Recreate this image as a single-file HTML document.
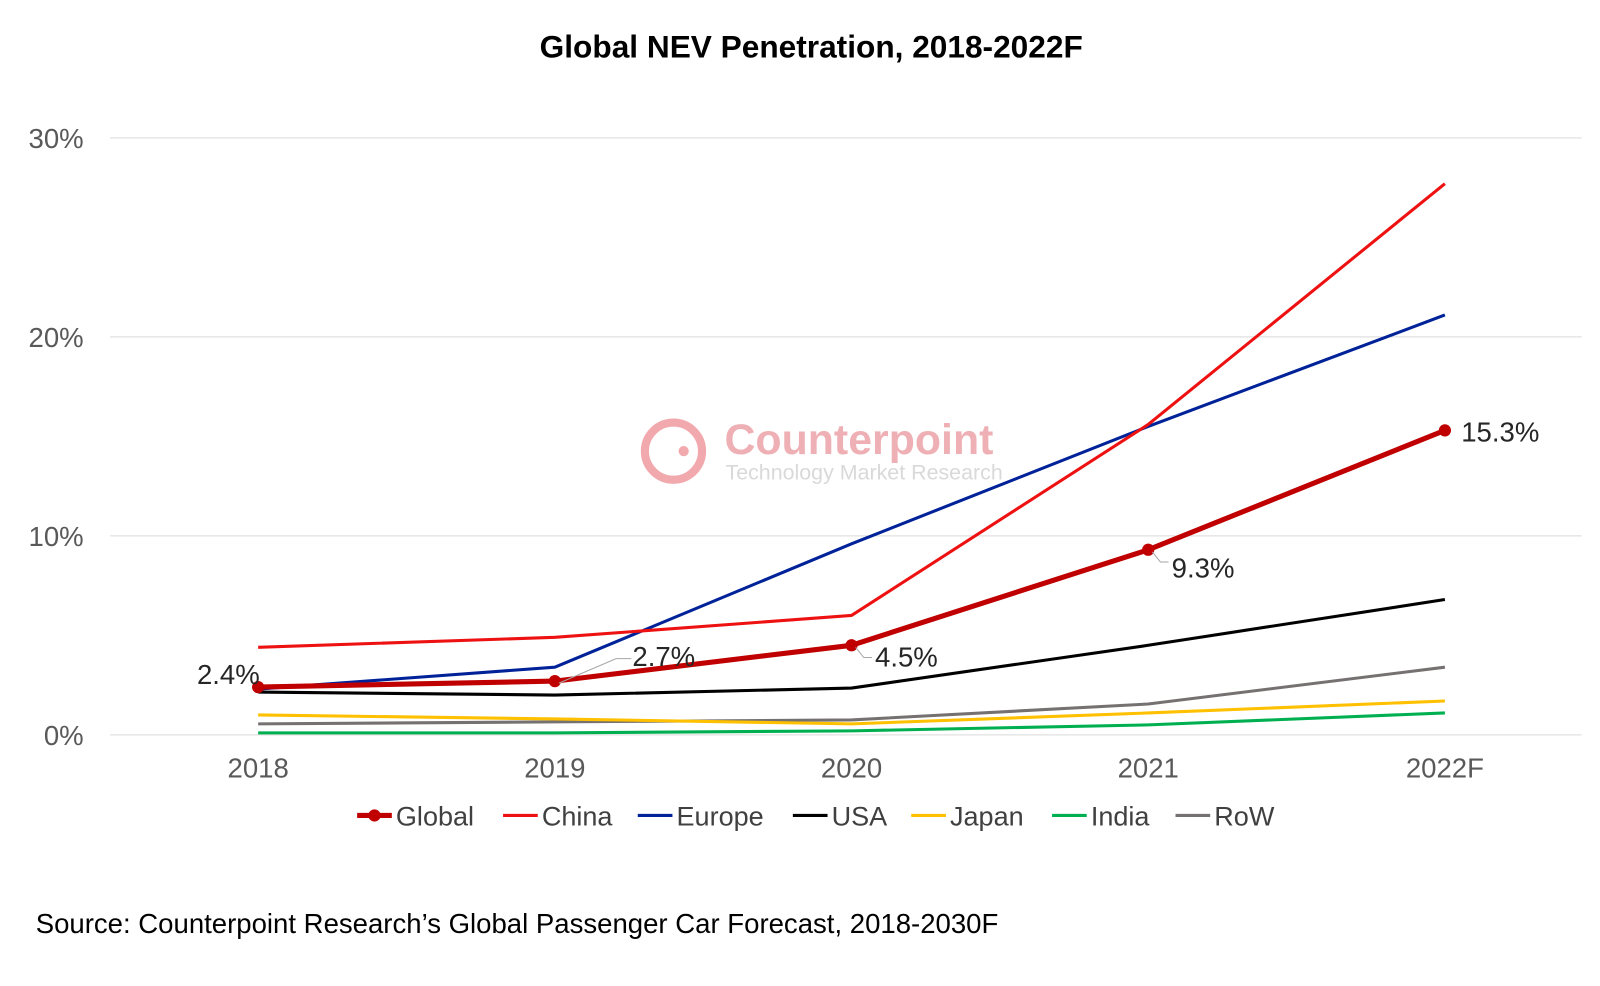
<!DOCTYPE html>
<html><head><meta charset="utf-8"><style>
body{margin:0;background:#fff;}
svg{display:block;}
svg text{font-family:"Liberation Sans",sans-serif;}
</style></head><body>
<svg id="chart" width="1600" height="986" viewBox="0 0 1568 966" xmlns="http://www.w3.org/2000/svg">
<text x="795" y="56" text-anchor="middle" font-size="31" font-weight="bold" fill="#000">Global NEV Penetration, 2018-2022F</text>
<g id="grid"></g>
<g id="watermark">
<circle cx="660" cy="442" r="28" fill="none" stroke="#f2a9ad" stroke-width="8"/>
<circle cx="670" cy="442" r="5" fill="#f2a9ad"/>
<text x="710" y="445" font-size="42" font-weight="bold" fill="#eeb0b4">Counterpoint</text>
<text x="711" y="470" font-size="21" fill="#d9d9d9">Technology Market Research</text>
</g>
<g id="series"></g>
<g id="labels"></g>
<g id="legend"></g>
<text x="35" y="914" font-size="27" fill="#000">Source: Counterpoint Research’s Global Passenger Car Forecast, 2018-2030F</text>
</svg>
<script>
const categories = ["2018","2019","2020","2021","2022F"];
const yTicks = [0,10,20,30];
const globalVals = [2.4,2.7,4.5,9.3,15.3];
const chinaVals = [4.4,4.9,6.0,15.6,27.7];
const europeVals = [2.3,3.4,9.6,15.5,21.1];
const usaVals = [2.15,2.0,2.35,4.5,6.8];
const japanVals = [1.0,0.8,0.55,1.1,1.7];
const indiaVals = [0.1,0.1,0.2,0.5,1.1];
const rowVals = [0.55,0.65,0.75,1.55,3.4];
const globalLabels = ["2.4%","2.7%","4.5%","9.3%","15.3%"];

const NS="http://www.w3.org/2000/svg";
const x = i => 253 + i*290.75;
const y = v => 720 - v*19.5;
function mk(tag, attrs, parent){const e=document.createElementNS(NS,tag);for(const k in attrs)e.setAttribute(k,attrs[k]);parent.appendChild(e);return e;}
const grid=document.getElementById('grid');
yTicks.forEach(t=>{
  const l=mk('line',{x1:108,x2:1550,y1:y(t),y2:y(t),stroke:'#d9d9d9','stroke-width':1},grid);
  
  
  const tx=mk('text',{x:82,y:y(t)+10,'text-anchor':'end','font-size':27,fill:'#595959'},grid);
  tx.textContent=t+'%';
  
  
});
categories.forEach((c,i)=>{
  const tx=mk('text',{x:x(i),y:762,'text-anchor':'middle','font-size':27,fill:'#595959'},grid);
  tx.textContent=c;
  
  
});
const series=[
 ['RoW',rowVals,'#767171',3],
 ['India',indiaVals,'#00b050',3],
 ['Japan',japanVals,'#ffc000',3],
 ['USA',usaVals,'#000000',3],
 ['Europe',europeVals,'#002299',3],
 ['China',chinaVals,'#ee1111',3],
 ['Global',globalVals,'#c00000',5]
];
const sg=document.getElementById('series');
series.forEach(s=>{
  const p=mk('polyline',{points:s[1].map((v,i)=>x(i)+','+y(v)).join(' '),fill:'none',stroke:s[2],'stroke-width':s[3],'stroke-linejoin':'round'},sg);
  
  
});
globalVals.forEach((v,i)=>{
  const c=mk('circle',{cx:x(i),cy:y(v),r:6,fill:'#c00000'},sg);
  
  
});
const lg=document.getElementById('labels');
const offs=[[-60,-12,'start'],[76,-24,'start'],[23,12,'start'],[23,18,'start'],[16,2,'start']];
globalVals.forEach((v,i)=>{
  const o=offs[i];
  if(i>0&&i<4){
    const ln=mk('polyline',{points:`${x(i)+4},${y(v)+2} ${x(i)+(i===1?60:12)},${y(v)+(i===1?-22:12)} ${x(i)+(i===1?75:20)},${y(v)+(i===1?-22:12)}`,fill:'none',stroke:'#a6a6a6','stroke-width':1},lg);
    
    
  }
  const t=mk('text',{x:x(i)+o[0],y:y(v)+o[1]+9,'text-anchor':o[2],'font-size':27,fill:'#262626'},lg);
  t.textContent=globalLabels[i];
  
  
});
const leg=document.getElementById('legend');
const legendItems=[['Global','#c00000',350],['China','#ee1111',493],['Europe','#002299',625],['USA','#000000',777],['Japan','#ffc000',893],['India','#00b050',1031],['RoW','#767171',1152]];
legendItems.forEach(it=>{
  const g=mk('g',{},leg);
  
  
  mk('line',{x1:it[2],x2:it[2]+34,y1:799,y2:799,stroke:it[1],'stroke-width':it[0]==='Global'?5:3},g);
  if(it[0]==='Global') mk('circle',{cx:it[2]+17,cy:799,r:6,fill:it[1]},g);
  const t=mk('text',{x:it[2]+38,y:809,'font-size':26.5,fill:'#404040'},g);
  t.textContent=it[0];
});
</script>
</body></html>
